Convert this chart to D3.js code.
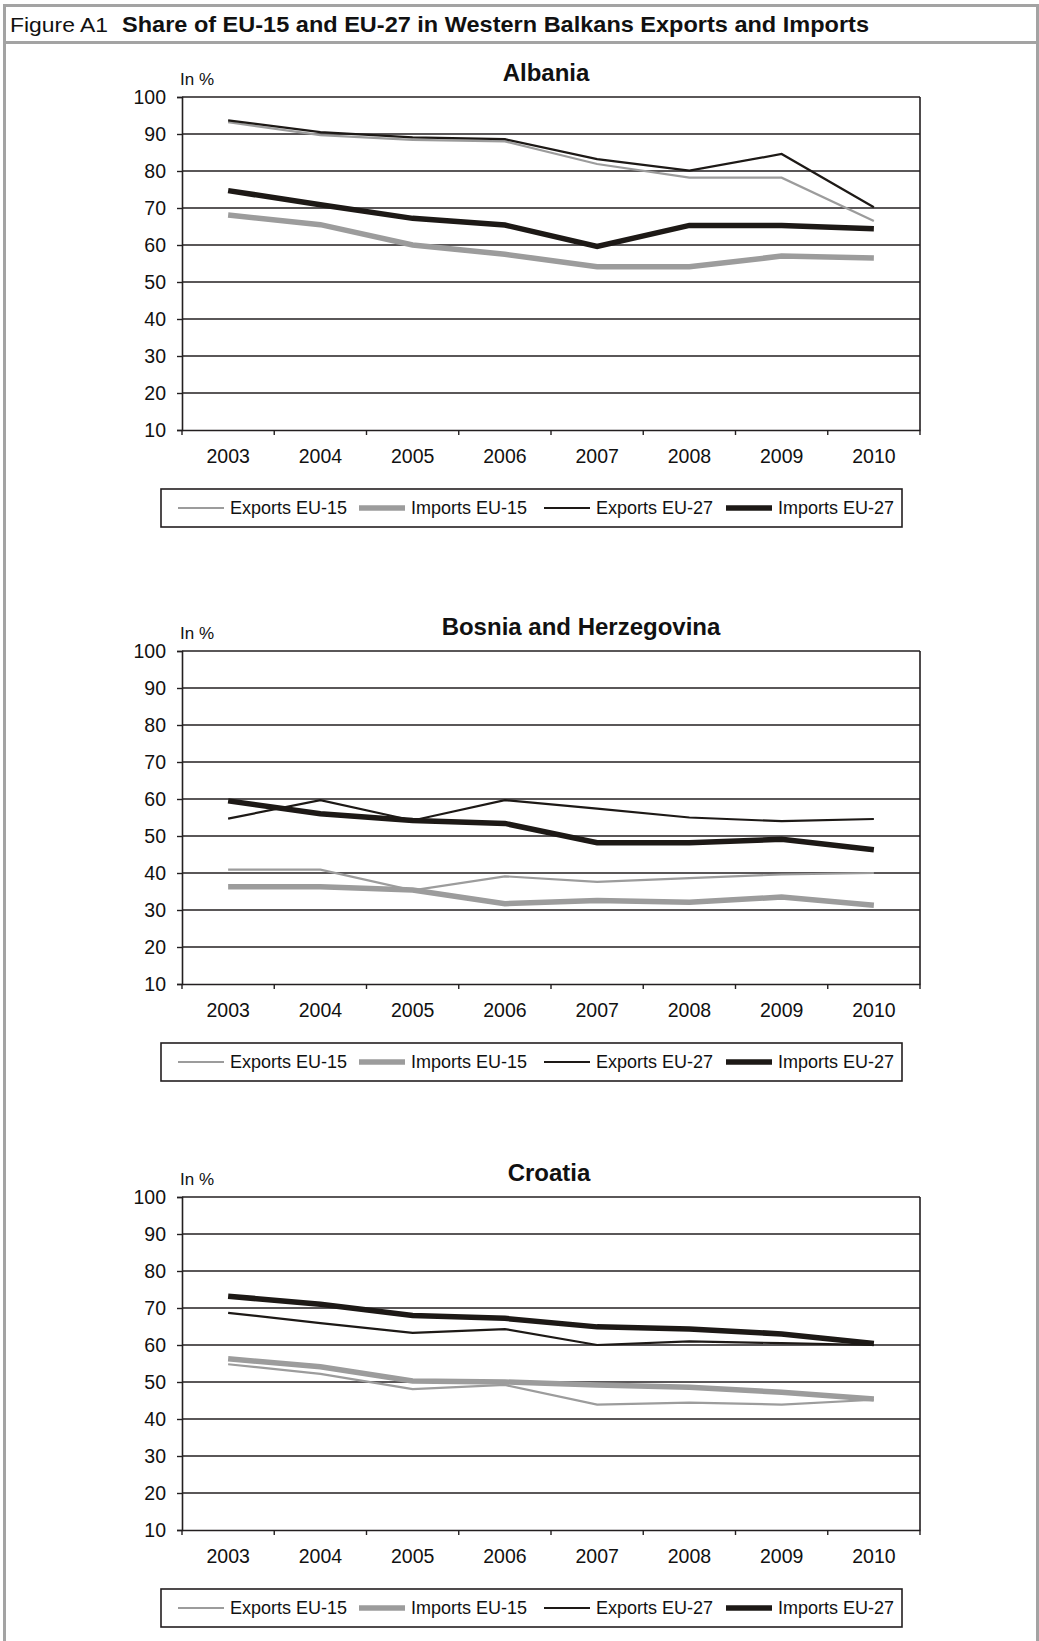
<!DOCTYPE html>
<html>
<head>
<meta charset="utf-8">
<script src="https://cdn.jsdelivr.net/npm/d3@7"></script>
<style>
  body { margin: 0; background: #fff; }
  svg { display: block; }
</style>
</head>
<body>
<div id="my_dataviz"></div>
<script>
// data
var years = ["2003", "2004", "2005", "2006", "2007", "2008", "2009", "2010"];
var yTicks = [10, 20, 30, 40, 50, 60, 70, 80, 90, 100];
var seriesNames = ["Exports EU-15", "Imports EU-15", "Exports EU-27", "Imports EU-27"];
var countries = ["Albania", "Bosnia and Herzegovina", "Croatia"];

var albaniaExportsEU15 = [93.2, 89.7, 88.4, 88.0, 81.9, 78.2, 78.2, 66.5];
var albaniaImportsEU15 = [68.1, 65.5, 60.0, 57.5, 54.1, 54.1, 57.0, 56.5];
var albaniaExportsEU27 = [93.7, 90.5, 89.1, 88.6, 83.2, 80.1, 84.6, 70.2];
var albaniaImportsEU27 = [74.7, 70.9, 67.2, 65.4, 59.6, 65.3, 65.3, 64.4];

var bosniaExportsEU15 = [40.9, 40.9, 35.3, 39.1, 37.6, 38.6, 39.6, 40.0];
var bosniaImportsEU15 = [36.3, 36.3, 35.4, 31.7, 32.6, 32.1, 33.5, 31.3];
var bosniaExportsEU27 = [54.7, 59.7, 54.2, 59.7, 57.4, 55.0, 54.0, 54.6];
var bosniaImportsEU27 = [59.5, 56.0, 54.2, 53.4, 48.2, 48.2, 49.1, 46.3];

var croatiaExportsEU15 = [54.8, 52.2, 48.1, 49.2, 43.9, 44.4, 43.9, 45.2];
var croatiaImportsEU15 = [56.3, 54.1, 50.3, 50.0, 49.2, 48.6, 47.2, 45.4];
var croatiaExportsEU27 = [68.7, 65.9, 63.3, 64.3, 60.0, 61.0, 60.5, 60.0];
var croatiaImportsEU27 = [73.2, 71.0, 68.0, 67.2, 64.9, 64.3, 63.0, 60.4];

var chartValues = [
  [albaniaExportsEU15, albaniaImportsEU15, albaniaExportsEU27, albaniaImportsEU27],
  [bosniaExportsEU15, bosniaImportsEU15, bosniaExportsEU27, bosniaImportsEU27],
  [croatiaExportsEU15, croatiaImportsEU15, croatiaExportsEU27, croatiaImportsEU27],
];

// look of the four series
var seriesColor = ["#9c9c9c", "#9c9c9c", "#1d1916", "#1d1916"];
var seriesWidth = [2.2, 5.5, 2.2, 5.5];

var W = 1039, H = 1641;
var dark = "#231f20";
var frameGray = "#a3a3a3";
var plotLeft = 182, plotRight = 920, plotH = 333;
var plotTops = [97, 651, 1197];
var titleCenters = [546, 581, 549];
var font = "'Liberation Sans', Arial, sans-serif";

var svg = d3
  .select("#my_dataviz")
  .append("svg")
  .attr("width", W)
  .attr("height", H);

// outer frame + title bar
svg
  .append("rect")
  .attr("x", 4.5)
  .attr("y", 5.5)
  .attr("width", 1033)
  .attr("height", 1700)
  .attr("fill", "none")
  .attr("stroke", frameGray)
  .attr("stroke-width", 3);

svg
  .append("line")
  .attr("x1", 4)
  .attr("x2", 1038)
  .attr("y1", 42.5)
  .attr("y2", 42.5)
  .attr("stroke", frameGray)
  .attr("stroke-width", 3);

svg
  .append("text")
  .attr("x", 10)
  .attr("y", 32)
  .attr("font-family", font)
  .attr("font-size", 21)
  .attr("fill", "#111")
  .attr("textLength", 98)
  .attr("lengthAdjust", "spacingAndGlyphs")
  .text("Figure A1");

svg
  .append("text")
  .attr("x", 122)
  .attr("y", 32)
  .attr("font-family", font)
  .attr("font-size", 22)
  .attr("font-weight", "bold")
  .attr("fill", "#111")
  .attr("textLength", 747)
  .attr("lengthAdjust", "spacingAndGlyphs")
  .text("Share of EU-15 and EU-27 in Western Balkans Exports and Imports");

var x = d3.scaleBand().domain(years).range([plotLeft, plotRight]);

countries.forEach(function (country, ci) {
  var top = plotTops[ci];
  var bottom = top + plotH;
  var y = d3.scaleLinear().domain([10, 100]).range([bottom, top]);
  var g = svg.append("g");

  // gridlines
  g.selectAll(".grid")
    .data(yTicks.slice(1))
    .enter()
    .append("line")
    .attr("x1", plotLeft)
    .attr("x2", plotRight)
    .attr("y1", function (d) { return y(d); })
    .attr("y2", function (d) { return y(d); })
    .attr("stroke", dark)
    .attr("stroke-width", 1.6);

  // right border
  g.append("line")
    .attr("x1", plotRight)
    .attr("x2", plotRight)
    .attr("y1", top)
    .attr("y2", bottom)
    .attr("stroke", dark)
    .attr("stroke-width", 1.6);

  // Add Y axis
  var yAxis = g
    .append("g")
    .attr("transform", "translate(" + plotLeft + ",0)")
    .call(d3.axisLeft(y).tickValues(yTicks).tickSize(5).tickPadding(11));
  yAxis.select(".domain").attr("stroke", dark).attr("stroke-width", 1.6);
  yAxis.selectAll(".tick line").attr("stroke", dark).attr("stroke-width", 1.4);
  yAxis
    .selectAll(".tick text")
    .attr("font-family", font)
    .attr("font-size", 19.5)
    .attr("fill", "#111");

  // Add X axis
  var xAxis = g
    .append("g")
    .attr("transform", "translate(0," + bottom + ")")
    .call(d3.axisBottom(x).tickSize(0));
  xAxis.select(".domain").attr("stroke", dark).attr("stroke-width", 1.6);
  xAxis
    .selectAll(".tick text")
    .attr("dy", null)
    .attr("y", 33)
    .attr("font-family", font)
    .attr("font-size", 19.5)
    .attr("fill", "#111");

  // tick marks between the years
  g.selectAll(".xtick")
    .data(years.concat(["end"]))
    .enter()
    .append("line")
    .attr("x1", function (d) { return d == "end" ? plotRight : x(d); })
    .attr("x2", function (d) { return d == "end" ? plotRight : x(d); })
    .attr("y1", bottom)
    .attr("y2", bottom + 5)
    .attr("stroke", dark)
    .attr("stroke-width", 1.4);

  // chart title + unit
  g.append("text")
    .attr("x", titleCenters[ci])
    .attr("y", top - 16)
    .attr("text-anchor", "middle")
    .attr("font-family", font)
    .attr("font-size", 24)
    .attr("font-weight", "bold")
    .attr("fill", "#111")
    .text(country);

  g.append("text")
    .attr("x", 180)
    .attr("y", top - 12)
    .attr("font-family", font)
    .attr("font-size", 17)
    .attr("fill", "#111")
    .text("In %");

  // lines
  var line = d3
    .line()
    .x(function (d, i) { return x(years[i]) + x.bandwidth() / 2; })
    .y(function (d) { return y(d); });

  g.selectAll(".series")
    .data(chartValues[ci])
    .enter()
    .append("path")
    .attr("d", function (d) { return line(d); })
    .attr("fill", "none")
    .attr("stroke", function (d, i) { return seriesColor[i]; })
    .attr("stroke-width", function (d, i) { return seriesWidth[i]; })
    .attr("stroke-linejoin", "miter");

  // legend
  var legTop = bottom + 59;
  var legLeft = 161;
  g.append("rect")
    .attr("x", legLeft)
    .attr("y", legTop)
    .attr("width", 741)
    .attr("height", 38)
    .attr("fill", "none")
    .attr("stroke", dark)
    .attr("stroke-width", 1.6);

  var legOffsets = [17, 198, 383, 565];
  var legItem = g
    .selectAll(".leg")
    .data(seriesNames)
    .enter()
    .append("g")
    .attr("transform", function (d, i) {
      return "translate(" + (legLeft + legOffsets[i]) + "," + (legTop + 19) + ")";
    });

  legItem
    .append("line")
    .attr("x1", 0)
    .attr("x2", 46)
    .attr("stroke", function (d, i) { return seriesColor[i]; })
    .attr("stroke-width", function (d, i) { return seriesWidth[i]; });

  legItem
    .append("text")
    .attr("x", 52)
    .attr("y", 6)
    .attr("font-family", font)
    .attr("font-size", 18)
    .attr("fill", "#111")
    .text(function (d) { return d; });
});
</script>
</body>
</html>
